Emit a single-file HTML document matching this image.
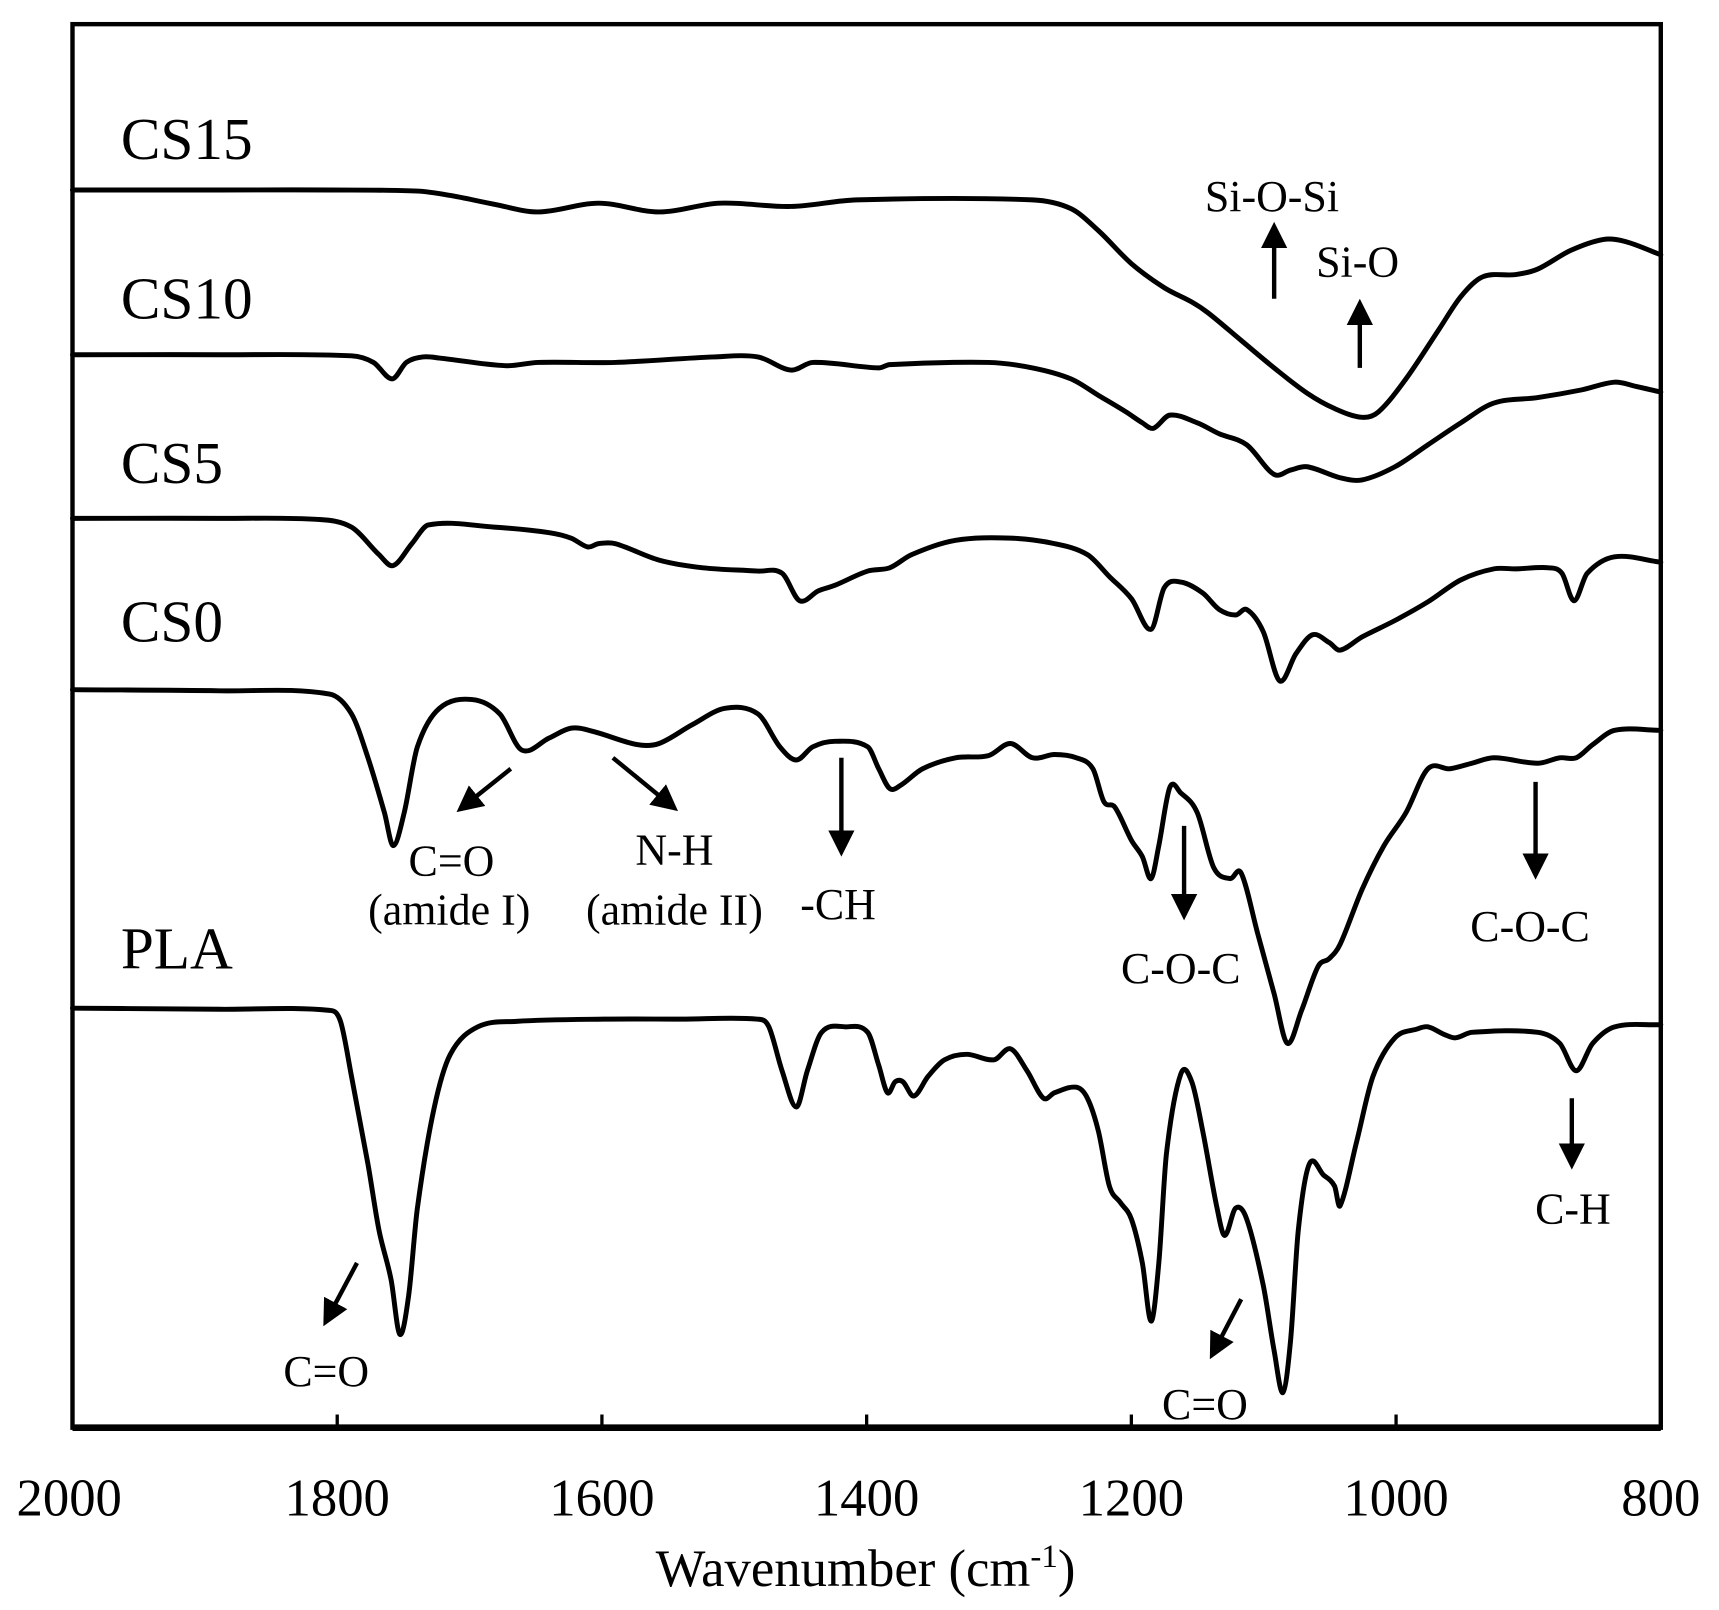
<!DOCTYPE html>
<html><head><meta charset="utf-8"><style>
html,body{margin:0;padding:0;background:#fff;}
svg{display:block}
text{font-family:"Liberation Serif",serif;fill:#000}
</style></head><body>
<svg id="s" width="1719" height="1610" viewBox="0 0 1565 1466" preserveAspectRatio="none" xmlns="http://www.w3.org/2000/svg">
<defs><marker id="ah" markerWidth="6" markerHeight="6" refX="3" refY="3" orient="auto" markerUnits="strokeWidth"><path d="M0,0 L6,3 L0,6 z" fill="#000"/></marker></defs>
<rect x="66" y="22" width="1446" height="1278" fill="none" stroke="#000" stroke-width="4"/>
<line x1="66" y1="1300" x2="1512" y2="1300" stroke="#000" stroke-width="6"/>
<g stroke="#000" stroke-width="3">
<line x1="307" y1="1288" x2="307" y2="1300"/><line x1="548" y1="1288" x2="548" y2="1300"/><line x1="789" y1="1288" x2="789" y2="1300"/><line x1="1030" y1="1288" x2="1030" y2="1300"/><line x1="1271" y1="1288" x2="1271" y2="1300"/>
</g>
<g font-size="48" text-anchor="middle">
<text x="63" y="1380">2000</text><text x="307" y="1380">1800</text><text x="548" y="1380">1600</text><text x="789" y="1380">1400</text><text x="1030" y="1380">1200</text><text x="1271" y="1380">1000</text><text x="1512" y="1380">800</text>
<text x="788" y="1444">Wavenumber (cm<tspan font-size="30" dy="-17">-1</tspan><tspan dy="17">)</tspan></text>
</g>
<g font-size="54">
<text x="110" y="145">CS15</text><text x="110" y="290">CS10</text><text x="110" y="440">CS5</text><text x="110" y="584">CS0</text><text x="110" y="882">PLA</text>
</g>
<g font-size="40" text-anchor="middle">
<text x="1158" y="192">Si-O-Si</text><text x="1236" y="252">Si-O</text>
<text x="411" y="797">C=O</text><text x="409" y="842">(amide I)</text>
<text x="614" y="787">N-H</text><text x="614" y="842">(amide II)</text>
<text x="763" y="837">-CH</text><text x="1075" y="895">C-O-C</text><text x="1393" y="857">C-O-C</text>
<text x="1432" y="1114">C-H</text><text x="297" y="1262">C=O</text><text x="1097" y="1292">C=O</text>
</g>
<g stroke="#000" stroke-width="4" marker-end="url(#ah)">
<line x1="1160" y1="272" x2="1160" y2="214"/><line x1="1238" y1="335" x2="1238" y2="284"/>
<line x1="465" y1="700" x2="425" y2="732"/><line x1="558" y1="690" x2="608" y2="731"/>
<line x1="766" y1="690" x2="766" y2="768"/><line x1="1078" y1="752" x2="1078" y2="826"/>
<line x1="1398" y1="712" x2="1398" y2="789"/><line x1="1431" y1="1000" x2="1431" y2="1053"/>
<line x1="325" y1="1150" x2="300" y2="1197"/><line x1="1130" y1="1183" x2="1107" y2="1227"/>
</g>
<g id="curves" fill="none" stroke="#000" stroke-width="4.5" stroke-linejoin="round" stroke-linecap="round"></g>
</svg>
<script>
var D=[
[66,173,200,173,300,173,380,174,410,178,450,186,490,193,545,185,600,193,655,185,720,188,780,182,940,182,975,190,1000,210,1030,240,1060,262,1085,275,1100,285,1130,310,1160,335,1190,358,1215,372,1240,380,1255,375,1280,345,1310,300,1330,270,1350,252,1380,250,1400,245,1430,228,1460,218,1480,220,1512,232],
[66,323,200,323,320,324,340,330,357,345,370,330,385,325,400,326,460,333,490,330,560,330,650,325,690,325,720,337,740,330,800,335,810,332,900,330,940,335,975,345,1000,360,1025,375,1040,385,1050,390,1065,378,1090,385,1110,395,1135,405,1160,432,1175,428,1190,425,1220,435,1240,437,1270,425,1300,405,1330,385,1360,367,1400,362,1440,355,1470,348,1490,352,1512,357],
[66,472,200,472,290,473,320,480,345,505,358,515,375,495,390,478,450,480,500,485,520,490,535,498,545,495,560,495,600,510,640,517,690,520,712,522,728,547,745,538,760,533,790,520,810,517,830,505,870,492,920,490,960,495,990,505,1010,525,1030,545,1048,573,1060,535,1075,530,1095,540,1110,555,1125,560,1135,555,1150,575,1165,620,1180,595,1195,578,1210,585,1220,592,1240,580,1270,565,1300,548,1330,528,1360,518,1380,518,1410,517,1422,522,1433,547,1445,522,1470,507,1512,512],
[66,628,200,629,300,632,320,650,335,690,350,740,358,770,368,740,380,680,400,645,430,637,455,650,475,683,500,672,520,663,540,666,580,678,600,677,630,660,660,645,690,650,710,680,725,692,740,680,760,675,790,680,800,700,810,718,820,715,840,700,870,690,900,688,920,677,940,690,960,687,980,690,995,700,1005,730,1015,735,1030,765,1040,780,1048,800,1055,770,1065,717,1075,722,1090,740,1105,790,1120,800,1130,795,1145,850,1160,905,1172,950,1185,920,1200,880,1210,873,1220,860,1240,810,1260,770,1280,740,1300,700,1320,700,1340,695,1360,690,1400,695,1420,690,1435,690,1450,678,1470,665,1512,665],
[66,918,200,919,300,920,310,930,320,980,335,1060,345,1120,356,1165,364,1215,372,1180,380,1100,395,1010,410,960,435,935,470,930,550,928,620,928,690,928,700,935,712,975,725,1008,735,975,748,940,770,935,790,940,800,970,808,995,815,985,822,985,832,998,845,980,860,965,880,960,905,965,920,955,935,975,950,1000,960,995,980,990,990,1000,1000,1030,1010,1080,1020,1095,1030,1110,1040,1150,1048,1203,1055,1150,1062,1050,1075,978,1085,985,1095,1030,1108,1100,1115,1125,1125,1100,1135,1110,1150,1170,1160,1230,1168,1268,1175,1220,1182,1120,1192,1060,1205,1070,1215,1080,1220,1098,1235,1040,1250,980,1270,945,1290,937,1300,935,1315,942,1325,945,1340,940,1400,940,1420,950,1435,975,1450,950,1470,935,1512,933]
];
var g=document.getElementById('curves');
D.forEach(function(a){
 var p=[];for(var i=0;i<a.length;i+=2)p.push([a[i],a[i+1]]);
 var n=p.length,m=[];
 for(var i=0;i<n;i++){var a0=p[Math.max(0,i-1)],a1=p[Math.min(n-1,i+1)];m.push((a1[1]-a0[1])/(a1[0]-a0[0]));}
 var d='M'+p[0][0]+','+p[0][1];
 for(var i=0;i<n-1;i++){
  var dx=(p[i+1][0]-p[i][0])/3;
  d+=' C'+(p[i][0]+dx)+','+(p[i][1]+m[i]*dx)+' '+(p[i+1][0]-dx)+','+(p[i+1][1]-m[i+1]*dx)+' '+p[i+1][0]+','+p[i+1][1];
 }
 var e=document.createElementNS('http://www.w3.org/2000/svg','path');e.setAttribute('d',d);g.appendChild(e);
});
</script>
</body></html>
